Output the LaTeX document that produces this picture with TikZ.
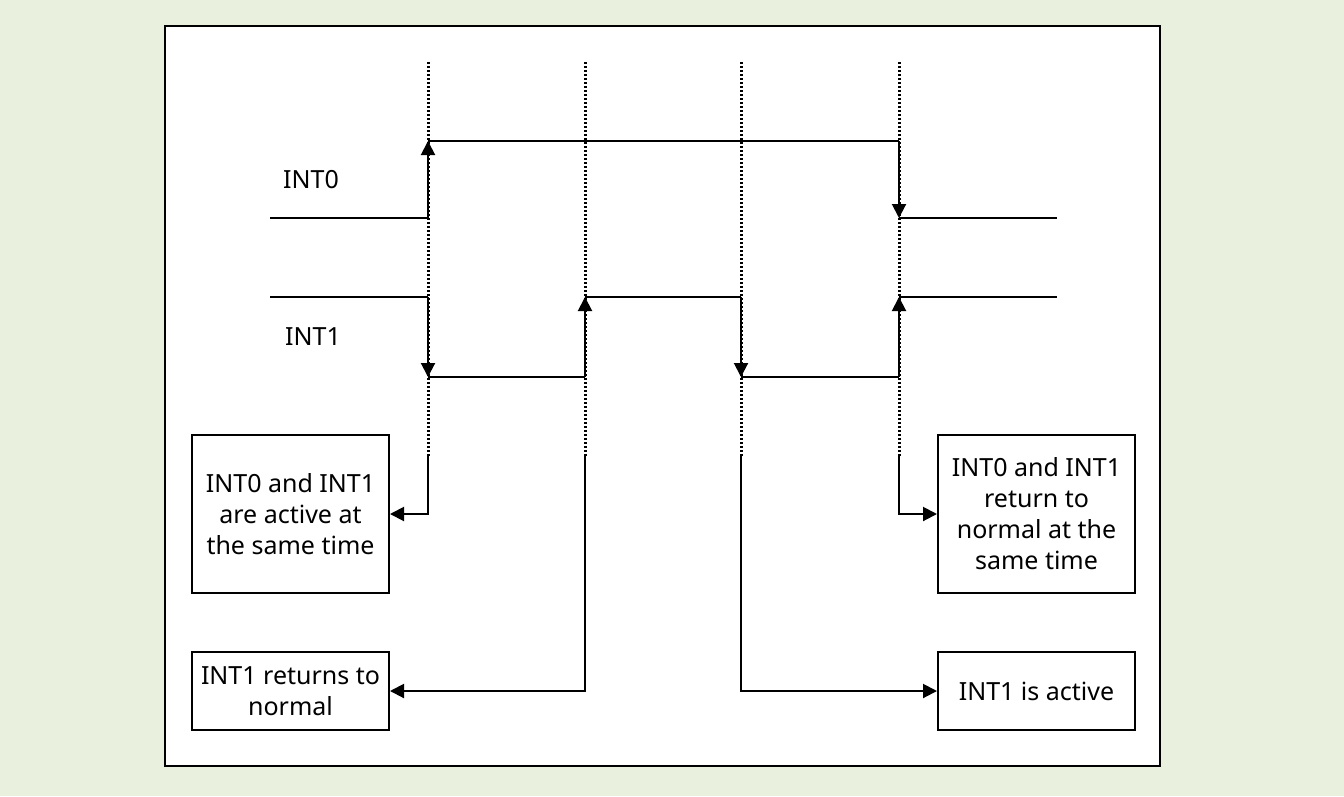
\documentclass[tikz,border=0pt]{standalone}
\usepackage{fontspec}
\setmainfont{Noto Sans}
\usetikzlibrary{arrows.meta}
\definecolor{bg}{HTML}{E9F0DD}
\begin{document}
\begin{tikzpicture}[x=1pt,y=-1pt,
  sig/.style={line width=2pt},
  guide/.style={line width=3pt, dash pattern=on 2pt off 2pt},
  tip/.style={-{Triangle[width=14pt,length=14pt]}},
  textbox/.style={draw, line width=2pt, minimum width=197pt, inner sep=0pt, align=center, font=\fontsize{25}{31}\selectfont},
  lbl/.style={font=\fontsize{25}{31}\selectfont, inner sep=0pt, anchor=west}]
\fill[bg] (0,0) rectangle (1344,796);
\useasboundingbox (0,0) rectangle (1344,796);
\draw[line width=2pt, fill=white] (165,26) rectangle (1160,766);

% text boxes
\node[textbox, minimum height=158pt] (box1) at (290.5,514) {INT0 and INT1\\are active at\\the same time};
\node[textbox, minimum height=158pt] (box3) at (1036.5,514) {INT0 and INT1\\return to\\normal at the\\same time};
\node[textbox, minimum height=78pt] (box2) at (290.5,691) {INT1 returns to\\normal};
\node[textbox, minimum height=78pt] (box4) at (1036.5,691) {INT1 is active};

% labels
\node[lbl] (l0) at (283,180) {INT0};
\node[lbl] (l1) at (285,337) {INT1};

% guide lines
\coordinate (g1t) at (428.5,62);  \coordinate (g1b) at (428.5,456);
\coordinate (g2t) at (585.5,62);  \coordinate (g2b) at (585.5,456);
\coordinate (g3t) at (741.5,62);  \coordinate (g3b) at (741.5,456);
\coordinate (g4t) at (899.5,62);  \coordinate (g4b) at (899.5,456);
\foreach \i in {1,2,3,4} {\draw[guide] (g\i t) -- (g\i b);}

% INT0 signal
\coordinate (a0) at (270,218); \coordinate (a1) at (428,218);
\coordinate (a2) at (428,141); \coordinate (a3) at (899,141);
\coordinate (a4) at (899,218); \coordinate (a5) at (1057,218);
\draw[sig] (a0) -- (a1);
\draw[sig,tip] (a1) -- (a2);
\draw[sig] (a2) -- (a3);
\draw[sig,tip] (a3) -- (a4);
\draw[sig] (a4) -- (a5);

% INT1 signal
\coordinate (b0) at (270,297); \coordinate (b1) at (428,297);
\coordinate (b2) at (428,377); \coordinate (b3) at (585,377);
\coordinate (b4) at (585,297); \coordinate (b5) at (741,297);
\coordinate (b6) at (741,377); \coordinate (b7) at (899,377);
\coordinate (b8) at (899,297); \coordinate (b9) at (1057,297);
\draw[sig] (b0) -- (b1);
\draw[sig,tip] (b1) -- (b2);
\draw[sig] (b2) -- (b3);
\draw[sig,tip] (b3) -- (b4);
\draw[sig] (b4) -- (b5);
\draw[sig,tip] (b5) -- (b6);
\draw[sig] (b6) -- (b7);
\draw[sig,tip] (b7) -- (b8);
\draw[sig] (b8) -- (b9);

% connectors to boxes
\coordinate (c1) at (428,455); \coordinate (c2) at (585,455);
\coordinate (c3) at (741,455); \coordinate (c4) at (899,455);
\draw[sig,tip] (c1) |- (box1.east);
\draw[sig,tip] (c2) |- (box2.east);
\draw[sig,tip] (c3) |- (box4.west);
\draw[sig,tip] (c4) |- (box3.west);
\end{tikzpicture}
\end{document}
